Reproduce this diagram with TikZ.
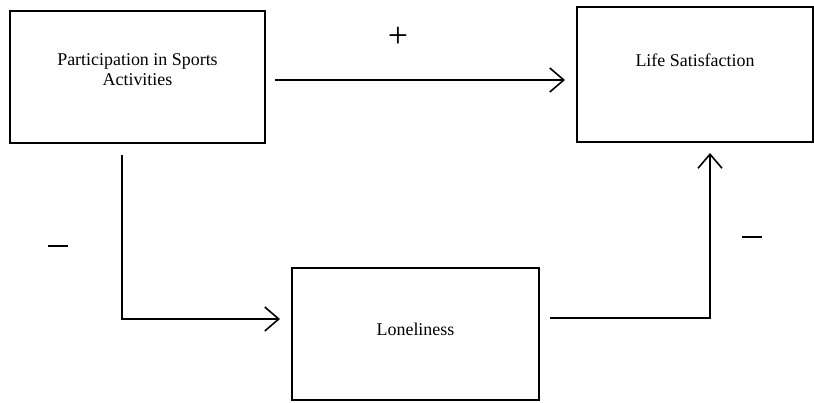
\documentclass[tikz,border=0pt]{standalone}
\usepackage{fontspec}
\setmainfont{Liberation Serif}
\usetikzlibrary{arrows.meta}

\tikzset{
	box/.style={draw, line width=1.6bp, inner sep=0pt},
	conn/.style={line width=1.6bp, -{Straight Barb[length=14bp, width=24bp, line width=1.6bp]}},
	sign/.style={font=\fontsize{36}{40}\selectfont},
}

\begin{document}
\begin{tikzpicture}[x=1bp, y=-1bp, every label/.style={font=\fontsize{18}{20}\selectfont}]
		\useasboundingbox (0,0) rectangle (814,402);

		\begin{scope}
			\node [box, minimum width=255bp, minimum height=132bp,
				label={[align=center, yshift=7bp]center:Participation in Sports\\Activities}]
				(sports) at (137.5,77) {};
			\node [box, minimum width=236bp, minimum height=135bp,
				label={[yshift=14bp]center:Life Satisfaction}]
				(life) at (695,74.5) {};
			\node [box, minimum width=247bp, minimum height=132bp,
				label={[yshift=5bp]center:Loneliness}]
				(lonely) at (415.5,334) {};
		\end{scope}

		\begin{scope}
			\coordinate (top start) at (275,80);
			\coordinate (top end) at (565,80);
			\draw [conn] (top start) -- (top end);

			\coordinate (left start) at (122,155);
			\coordinate (left end) at (280,319);
			\draw [conn] (left start) |- (left end);

			\coordinate (right start) at (550,318);
			\coordinate (right end) at (710,153);
			\draw [conn] (right start) -| (right end);
		\end{scope}

		\begin{scope}
			\node [sign] (plus) at (398,37) {+};
			\node (minus left) at (58,246) {\rule{20bp}{1.6bp}};
			\node (minus right) at (752,237) {\rule{20bp}{1.6bp}};
		\end{scope}
	\end{tikzpicture}
\end{document}
